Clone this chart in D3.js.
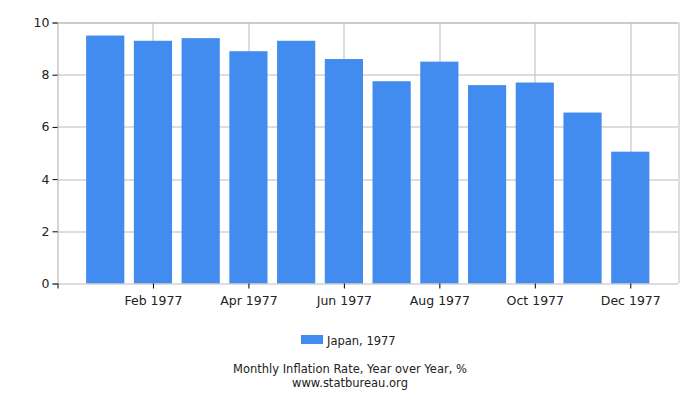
<!DOCTYPE html>
<html>
<head>
<meta charset="utf-8">
<script src="https://d3js.org/d3.v7.min.js"></script>
<style>
    body { margin: 0; background: #fff; }
    text { font-family: 'DejaVu Sans', sans-serif; fill: #222; }
    .axis text { font-size: 12.5px; }
    .legend text, .caption { font-size: 11.5px; }
</style>
</head>
<body>
<script>
// Japan monthly inflation, 1977
var months = ["Jan 1977", "Feb 1977", "Mar 1977", "Apr 1977", "May 1977", "Jun 1977",
              "Jul 1977", "Aug 1977", "Sep 1977", "Oct 1977", "Nov 1977", "Dec 1977"];
var values = [9.5, 9.3, 9.4, 8.9, 9.3, 8.6, 7.75, 8.5, 7.6, 7.7, 6.55, 5.05];
var yTicks = [0, 2, 4, 6, 8, 10];
var seriesName = "Japan, 1977";

var svg = d3.select("body").append("svg")
    .attr("width", 700)
    .attr("height", 400);

var margin = {top: 22.5, right: 22, bottom: 116.5, left: 57.5},
    width = 700 - margin.left - margin.right,
    height = 400 - margin.top - margin.bottom;

var g = svg.append("g").attr("transform", "translate(" + margin.left + "," + margin.top + ")");

// one slot per month, with an empty slot on each side
var x = d3.scaleLinear().domain([-1, months.length]).range([0, width]);
var y = d3.scaleLinear().domain([0, 10]).range([height, 0]);
var barW = (x(1) - x(0)) * 0.8;

var labelIdx = d3.range(1, months.length, 2);

// grid
g.selectAll(".hgrid")
    .data(yTicks.filter(function(d) { return d > 0; }))
    .enter().append("line")
    .attr("x1", 0).attr("x2", width)
    .attr("y1", function(d) { return Math.round(y(d)) + 0.5; })
    .attr("y2", function(d) { return Math.round(y(d)) + 0.5; })
    .attr("stroke", function(d) { return d === 10 ? "#999" : "#bbb"; });

g.selectAll(".vgrid")
    .data(labelIdx.concat([months.length]))
    .enter().append("line")
    .attr("x1", function(d) { return Math.round(x(d)) + 0.5; })
    .attr("x2", function(d) { return Math.round(x(d)) + 0.5; })
    .attr("y1", y(10)).attr("y2", height)
    .attr("stroke", "#bbb");

// bars
g.selectAll(".bar")
    .data(values)
    .enter().append("rect")
    .attr("class", "bar")
    .attr("x", function(d, i) { return x(i) - barW / 2; })
    .attr("width", barW)
    .attr("y", function(d) { return y(d); })
    .attr("height", function(d) { return height - y(d); })
    .attr("fill", "#428bef");

// axes
var yAxis = g.append("g")
    .attr("class", "axis")
    .call(d3.axisLeft(y).tickValues(yTicks).tickSize(5).tickPadding(3).tickFormat(d3.format("d")));
yAxis.select(".domain").attr("stroke", "#aaa");
yAxis.selectAll(".tick line").attr("stroke", "#000");

var xAxis = g.append("g")
    .attr("class", "axis")
    .attr("transform", "translate(0," + height + ")")
    .call(d3.axisBottom(x).tickValues([-1].concat(labelIdx)).tickSize(5).tickPadding(8)
        .tickFormat(function(d) { return d < 0 ? "" : months[d]; }));
xAxis.select(".domain").attr("stroke", "#bbb").attr("d", "M0,0.5H" + width);
xAxis.selectAll(".tick line").attr("stroke", "#000");

// legend
var legend = svg.append("g").attr("class", "legend");
legend.append("rect")
    .attr("x", 301).attr("y", 335)
    .attr("width", 22).attr("height", 9)
    .attr("fill", "#428bef");
legend.append("text")
    .attr("x", 327).attr("y", 345)
    .text(seriesName);

svg.append("text")
    .attr("class", "caption")
    .attr("x", 350).attr("y", 373)
    .attr("text-anchor", "middle")
    .text("Monthly Inflation Rate, Year over Year, %");
svg.append("text")
    .attr("class", "caption")
    .attr("x", 350).attr("y", 387)
    .attr("text-anchor", "middle")
    .text("www.statbureau.org");
</script>
</body>
</html>
